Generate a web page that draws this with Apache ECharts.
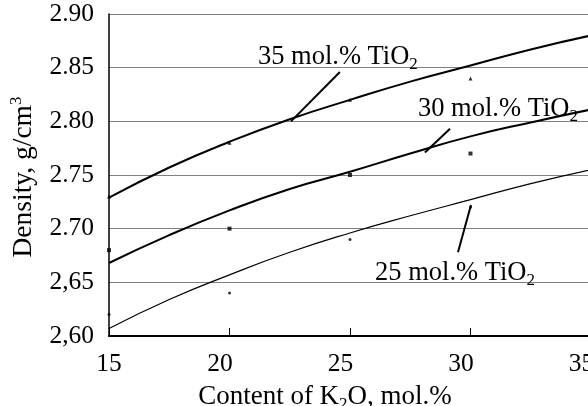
<!DOCTYPE html>
<html>
<head>
<meta charset="utf-8">
<script src="https://cdn.jsdelivr.net/npm/echarts@6/dist/echarts.min.js"></script>
<style>
html,body{margin:0;padding:0;background:#fff;}
#c{width:588px;height:406px;}
</style>
</head>
<body>
<div id="c"></div>
<script>
// measured points (K2O content, density)
const xValues = [15, 20, 25, 30];
const ti25Points = [2.62, 2.64, 2.69, 2.72];
const ti30Points = [2.68, 2.70, 2.75, 2.77];
const ti35Points = [2.73, 2.78, 2.82, 2.84];
// fitted curves
const curveX = [15, 17.5, 20, 22.5, 25, 27.5, 30, 32.5, 35];
const fit25 = [2.607, 2.634, 2.657, 2.678, 2.696, 2.712, 2.727, 2.742, 2.755];
const fit30 = [2.668, 2.694, 2.717, 2.737, 2.753, 2.770, 2.786, 2.799, 2.811];
const fit35 = [2.729, 2.757, 2.781, 2.802, 2.820, 2.837, 2.852, 2.867, 2.880];
// y tick labels as printed
const yTickValues = [2.60, 2.65, 2.70, 2.75, 2.80, 2.85, 2.90];
const yTickLabels = ['2,60', '2,65', '2.70', '2.75', '2.80', '2.85', '2.90'];
// annotations: [label number, text anchor (x,y), leader from, leader to]
const annotNames = ['35', '30', '25'];
const annotText = [[21.18, 2.860], [27.82, 2.811], [26.04, 2.659]];
const annotFrom = [[24.58, 2.846], [29.15, 2.793], [29.48, 2.678]];
const annotTo = [[22.55, 2.800], [28.11, 2.771], [30.02, 2.722]];

const FONT = 'Liberation Serif';
const zip = (xs, ys) => xs.map((x, i) => [x, ys[i]]);

const chart = echarts.init(document.getElementById('c'));
chart.setOption({
  animation: false,
  backgroundColor: '#fff',
  grid: {left: 109, top: 14, width: 482, height: 322, containLabel: false, outerBoundsMode: 'none'},
  xAxis: {
    type: 'value', min: 15, max: 35, interval: 5,
    axisLine: {show: true, lineStyle: {color: '#000', width: 2}},
    axisTick: {show: true, inside: true, length: 8, lineStyle: {color: '#000', width: 1}},
    splitLine: {show: false},
    axisLabel: {
      margin: 15, color: '#000', fontFamily: FONT, fontSize: 25.5, hideOverlap: false,
      formatter: v => v === 15 ? '{f|' + v + '}' : '{f|' + v + '}{sp|\u00a0\u00a0\u00a0}',
      rich: {
        f: {fontFamily: FONT, fontSize: 25.5, color: '#000'},
        sp: {fontFamily: FONT, fontSize: 25.5, color: '#000'}
      }
    }
  },
  yAxis: {
    type: 'value', min: 2.60, max: 2.90, interval: 0.05,
    axisLine: {show: true, lineStyle: {color: '#000', width: 1.5}},
    axisTick: {show: false},
    splitLine: {show: true, lineStyle: {color: '#808080', width: 1}},
    axisLabel: {
      margin: 15, color: '#000', fontFamily: FONT, fontSize: 25.5,
      formatter: v => {
        const i = yTickValues.findIndex(t => Math.abs(t - v) < 1e-6);
        return i >= 0 ? yTickLabels[i] : '';
      }
    }
  },
  series: [
    {type: 'line', data: zip(curveX, fit35), smooth: true, showSymbol: false, lineStyle: {color: '#000', width: 2}, z: 3},
    {type: 'line', data: zip(curveX, fit30), smooth: true, showSymbol: false, lineStyle: {color: '#000', width: 2}, z: 3},
    {type: 'line', data: zip(curveX, fit25), smooth: true, showSymbol: false, lineStyle: {color: '#000', width: 1.2}, z: 3},
    {type: 'scatter', data: zip(xValues, ti35Points), symbol: 'triangle', symbolSize: 4, itemStyle: {color: '#000'}, z: 4},
    {type: 'scatter', data: zip(xValues, ti30Points), symbol: 'rect', symbolSize: 4, itemStyle: {color: '#000'}, z: 4},
    {type: 'scatter', data: zip(xValues, ti25Points), symbol: 'circle', symbolSize: 3, itemStyle: {color: '#000'}, z: 4}
  ]
});

const richSub = {
  a: {fontFamily: FONT, fontSize: 26.5, color: '#000', lineHeight: 32},
  s: {fontFamily: FONT, fontSize: 17, color: '#000', lineHeight: 17, verticalAlign: 'bottom'}
};
const graphics = [];
annotNames.forEach((n, i) => {
  const t = chart.convertToPixel({gridIndex: 0}, annotText[i]);
  const p1 = chart.convertToPixel({gridIndex: 0}, annotFrom[i]);
  const p2 = chart.convertToPixel({gridIndex: 0}, annotTo[i]);
  graphics.push({
    type: 'text', x: t[0], y: t[1], z: 10,
    style: {text: '{a|' + n + ' mol.% TiO}{s|2}', rich: richSub, align: 'left', verticalAlign: 'middle'}
  });
  graphics.push({
    type: 'line', z: 10,
    shape: {x1: p1[0], y1: p1[1], x2: p2[0], y2: p2[1]},
    style: {stroke: '#000', lineWidth: 2}
  });
});
graphics.push({
  type: 'text', x: 325, y: 397, z: 10,
  style: {
    text: '{a|Content of K}{s|2}{a|O, mol.%}',
    rich: {
      a: {fontFamily: FONT, fontSize: 27, color: '#000', lineHeight: 32},
      s: {fontFamily: FONT, fontSize: 17, color: '#000', lineHeight: 17, verticalAlign: 'bottom'}
    },
    align: 'center', verticalAlign: 'middle'
  }
});
graphics.push({
  type: 'text', x: 24, y: 177, rotation: Math.PI / 2, z: 10,
  style: {
    text: '{a|Density, g/cm}{p|3}',
    rich: {
      a: {fontFamily: FONT, fontSize: 27.5, color: '#000', lineHeight: 32},
      p: {fontFamily: FONT, fontSize: 17, color: '#000', lineHeight: 17, verticalAlign: 'top'}
    },
    align: 'center', verticalAlign: 'middle'
  }
});
chart.setOption({graphic: graphics});
</script>
</body>
</html>
